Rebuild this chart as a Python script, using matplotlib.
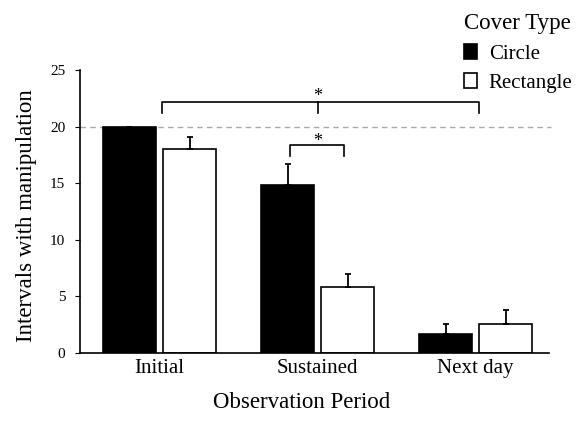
import matplotlib.pyplot as plt
import numpy as np

plt.rcParams['font.family'] = ['Liberation Serif', 'DejaVu Serif']

periods = ['Initial', 'Sustained', 'Next day']
circle_means = [20.0, 14.8, 1.7]
circle_err = [0.0, 1.9, 0.9]
rect_means = [18.0, 5.8, 2.6]
rect_err = [1.05, 1.15, 1.2]
ref_level = 20

x = np.arange(len(periods))
w = 0.335
off = 0.19

fig = plt.figure(figsize=(5.81, 4.26), dpi=100)
ax = fig.add_axes([0.1377, 0.1714, 0.8073, 0.6643])

# horizontal reference line at the maximum
ax.axhline(ref_level, color='#aaaaaa', lw=1, ls=(0, (4, 3)), xmin=0, xmax=1.005,
           clip_on=False, zorder=0)

ax.bar(x - off, circle_means, w, color='black', edgecolor='black', lw=1.2,
       label='Circle', zorder=2)
ax.bar(x + off, rect_means, w, color='white', edgecolor='black', lw=1.2,
       label='Rectangle', zorder=2)
err_kw = dict(fmt='none', ecolor='black', elinewidth=1.3, capsize=2.5,
              capthick=1.3, zorder=3)
ax.errorbar(x - off, circle_means, yerr=[np.zeros(3), circle_err], **err_kw)
ax.errorbar(x + off, rect_means, yerr=[np.zeros(3), rect_err], **err_kw)

# significance brackets
def bracket(x0, x1, y, h):
    ax.plot([x0, x0, x1, x1], [y - h, y, y, y - h], color='black', lw=1.2,
            clip_on=False)

bracket(0.014, 2.02, 22.15, 0.95)
ax.plot([1.0, 1.0], [22.15, 21.2], color='black', lw=1.2, clip_on=False)
ax.text(1.0, 21.95, '*', ha='center', va='bottom', fontsize=13)
bracket(0.825, 1.17, 18.33, 0.95)
ax.text(0.9975, 17.95, '*', ha='center', va='bottom', fontsize=13)

ax.set_xlim(-0.503, 2.465)
ax.set_ylim(0, 25)
ax.set_yticks([0, 5, 10, 15, 20, 25])
ax.set_xticks(x)
ax.set_xticklabels(periods, fontsize=15)
ax.tick_params(axis='x', length=0, pad=4)
ax.tick_params(axis='y', length=3.6, labelsize=11, pad=7)
for s in ['top', 'right']:
    ax.spines[s].set_visible(False)
for s in ['left', 'bottom']:
    ax.spines[s].set_linewidth(1.2)

fig.text(302 / 581, 1 - 402 / 426, 'Observation Period', fontsize=16.5,
         ha='center', va='center')
fig.text(27 / 581, 1 - 216 / 426, 'Intervals with manipulation', fontsize=16.5,
         ha='center', va='center', rotation=90)

leg = ax.legend(title='Cover Type', loc='upper left',
                bbox_to_anchor=(456 / 581, 1 - 5 / 426),
                bbox_transform=fig.transFigure, frameon=False, fontsize=15,
                title_fontsize=16.5, handlelength=0.62, handleheight=0.75,
                handletextpad=0.55, labelspacing=0.45, borderaxespad=0)
leg._legend_box.align = 'left'

fig.savefig('out.png', dpi=100)
